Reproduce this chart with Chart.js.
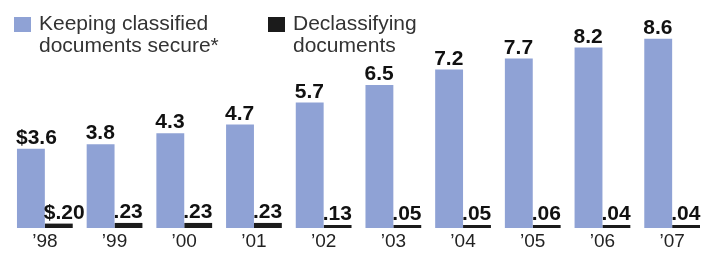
<!DOCTYPE html>
<html>
<head>
<meta charset="utf-8">
<script src="https://cdn.jsdelivr.net/npm/chart.js@4/dist/chart.umd.min.js"></script>
<style>
  html, body { margin: 0; padding: 0; background: #fff; }
  #wrap { position: relative; width: 715px; height: 253px; overflow: hidden; }
  #c { position: absolute; left: 0; top: 0; }
  .leg { position: absolute; font-family: "Liberation Sans", Arial, sans-serif; font-size: 21px; line-height: 22px; color: #333; }
  .sw { position: absolute; width: 17px; height: 15px; }
</style>
</head>
<body>
<div id="wrap">
  <canvas id="c" width="715" height="253"></canvas>
</div>
<script>
const categories = ["\u201998", "\u201999", "\u201900", "\u201901", "\u201902", "\u201903", "\u201904", "\u201905", "\u201906", "\u201907"];
const keepingSecure = [3.6, 3.8, 4.3, 4.7, 5.7, 6.5, 7.2, 7.7, 8.2, 8.6];
const declassifying = [0.20, 0.23, 0.23, 0.23, 0.13, 0.05, 0.05, 0.06, 0.04, 0.04];
const seriesNames = [["Keeping classified", "documents secure*"], ["Declassifying", "documents"]];
const colors = ["#8fa2d5", "#1b1b1b"];

function fmtKeep(v, i) { return (i === 0 ? "$" : "") + v.toFixed(1); }
function fmtDecl(v, i) { return (i === 0 ? "$" : "") + v.toFixed(2).replace(/^0/, ""); }

// HTML legend built from series names
const wrap = document.getElementById("wrap");
const legendPos = [{sw: 14, tx: 39}, {sw: 268, tx: 293}];
seriesNames.forEach((lines, k) => {
  const sw = document.createElement("div");
  sw.className = "sw";
  sw.style.left = legendPos[k].sw + "px";
  sw.style.top = "17px";
  sw.style.background = colors[k];
  wrap.appendChild(sw);
  const t = document.createElement("div");
  t.className = "leg";
  t.style.left = legendPos[k].tx + "px";
  t.style.top = "12px";
  t.innerHTML = lines.join("<br>");
  wrap.appendChild(t);
});

const valueLabels = {
  id: "valueLabels",
  afterDatasetsDraw(chart) {
    const ctx = chart.ctx;
    ctx.save();
    ctx.font = "bold 21px 'Liberation Sans', Arial, sans-serif";
    ctx.fillStyle = "#111";
    ctx.textAlign = "left";
    ctx.textBaseline = "alphabetic";
    chart.data.datasets.forEach((ds, di) => {
      const meta = chart.getDatasetMeta(di);
      meta.data.forEach((bar, i) => {
        const txt = di === 0 ? fmtKeep(ds.data[i], i) : fmtDecl(ds.data[i], i);
        const left = bar.x - bar.width / 2 - 1;
        ctx.fillText(txt, left, bar.y - 5);
      });
    });
    ctx.restore();
  }
};

new Chart(document.getElementById("c"), {
  type: "bar",
  data: {
    labels: categories,
    datasets: [
      { label: seriesNames[0].join(" "), data: keepingSecure, backgroundColor: colors[0], borderWidth: 0 },
      { label: seriesNames[1].join(" "), data: declassifying, backgroundColor: colors[1], borderWidth: 0, minBarLength: 3 }
    ]
  },
  options: {
    responsive: false,
    animation: false,
    devicePixelRatio: 1,
    layout: { padding: { left: 10, right: 8, top: 0, bottom: 0 } },
    datasets: { bar: { categoryPercentage: 0.8, barPercentage: 1.0 } },
    plugins: { legend: { display: false }, tooltip: { enabled: false }, title: { display: false } },
    scales: {
      x: {
        grid: { display: false, drawTicks: false },
        border: { display: false },
        ticks: { color: "#222", font: { family: "'Liberation Sans', Arial, sans-serif", size: 19, lineHeight: 1.0 }, padding: 4, maxRotation: 0 },
        afterFit(scale) { scale.height = 25; }
      },
      y: {
        display: false,
        min: 0,
        max: 10.36
      }
    }
  },
  plugins: [valueLabels]
});
</script>
</body>
</html>
